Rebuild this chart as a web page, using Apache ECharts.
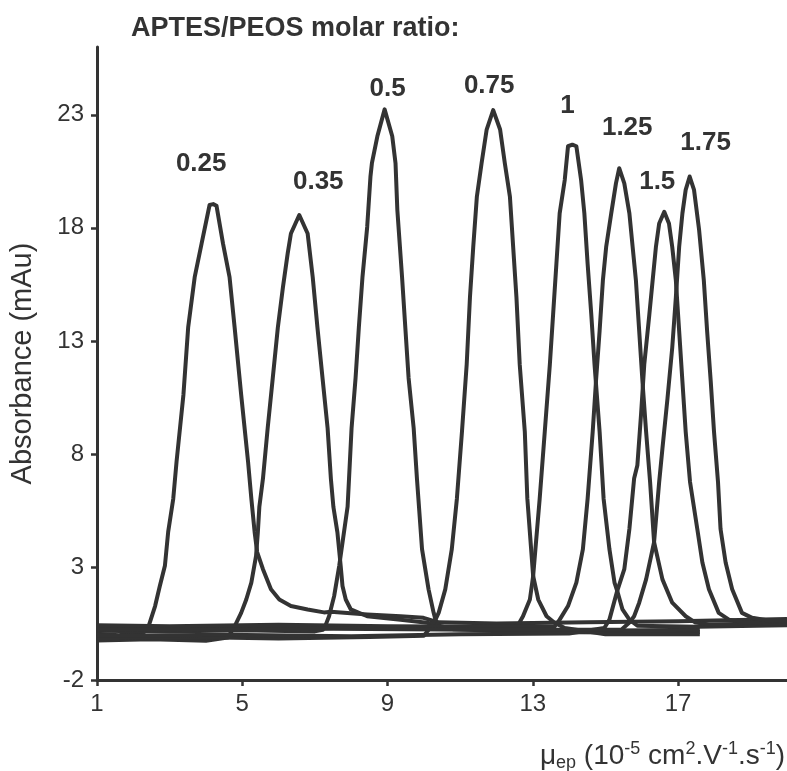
<!DOCTYPE html>
<html>
<head>
<meta charset="utf-8">
<title>APTES/PEOS molar ratio electropherograms</title>
<script src="https://cdn.jsdelivr.net/npm/echarts@6.0.0/dist/echarts.min.js"></script>
<style>
  html, body { margin: 0; padding: 0; background: #fff; }
  #chart { width: 787px; height: 771px; }
</style>
</head>
<body>
<div id="chart"></div>
<script>
// Molar ratios, one electropherogram each
const ratios = ['0.25', '0.35', '0.5', '0.75', '1', '1.25', '1.5', '1.75'];

// Axis tick values
const xTicks = [1, 5, 9, 13, 17];
const yTicks = [-2, 3, 8, 13, 18, 23];

// Traces: [mobility (10^-5 cm2/V/s), absorbance (mAu)]
const trace025 = [
  [1.0, 0.05], [1.6, -0.02], [2.1, 0.08], [2.3, 0.12],
  [2.42, 0.37], [2.60, 1.27], [2.73, 2.16], [2.87, 3.05], [2.96, 4.55], [3.10, 6.02], [3.19, 7.65],
  [3.38, 10.62], [3.51, 13.59], [3.69, 15.82], [3.88, 17.30], [4.10, 19.01], [4.20, 19.05], [4.29, 18.98],
  [4.47, 17.30], [4.65, 15.82], [4.79, 13.59], [4.97, 10.62], [5.16, 7.65], [5.25, 6.02], [5.34, 4.55],
  [5.41, 3.66], [5.57, 2.90], [5.79, 2.01], [6.02, 1.56], [6.34, 1.27], [6.80, 1.12], [7.25, 0.99],
  [7.44, 1.02], [8.44, 0.90], [9.36, 0.82], [9.99, 0.75], [10.4, 0.55], [12.0, 0.5], [14.5, 0.55],
  [17.0, 0.6], [20.0, 0.7]
];
const trace035 = [
  [1.0, -0.25], [2.5, -0.2], [4.0, -0.26], [4.6, -0.12],
  [4.79, 0.37], [4.97, 0.97], [5.11, 1.56], [5.25, 2.31], [5.38, 3.49], [5.43, 4.55], [5.47, 5.65],
  [5.57, 6.91], [5.70, 9.14], [5.84, 11.36], [5.98, 13.59], [6.12, 15.37], [6.25, 16.86], [6.34, 17.75],
  [6.57, 18.57],
  [6.80, 17.75], [6.94, 15.82], [7.07, 13.59], [7.21, 11.36], [7.35, 9.14], [7.44, 6.91], [7.51, 5.65],
  [7.62, 4.53], [7.71, 3.05], [7.76, 2.16], [7.85, 1.56], [7.99, 1.12], [8.44, 0.82], [9.36, 0.67],
  [10.09, 0.53], [10.8, 0.25], [13.0, 0.12], [15.5, 0.1], [17.6, 0.12]
];
const trace05 = [
  [1.0, 0.18], [3.0, 0.14], [5.0, 0.2], [7.0, 0.15], [7.22, 0.22],
  [7.30, 0.45], [7.39, 0.82], [7.53, 1.71], [7.67, 3.05], [7.90, 5.66], [7.94, 6.91], [8.01, 9.14],
  [8.12, 11.36], [8.21, 13.59], [8.31, 15.82], [8.44, 18.04], [8.53, 20.27], [8.57, 20.86], [8.72, 22.05],
  [8.92, 23.24],
  [9.13, 22.05], [9.22, 20.86], [9.27, 18.80], [9.40, 15.82], [9.49, 13.59], [9.58, 11.36], [9.72, 9.14],
  [9.81, 6.91], [9.85, 6.02], [9.95, 3.79], [10.13, 2.01], [10.27, 0.97], [10.32, 0.67], [10.45, 0.3],
  [12.0, 0.22], [14.5, 0.18], [17.6, 0.22]
];
const trace075 = [
  [1.0, -0.15], [3.5, -0.1], [6.0, -0.16], [8.5, -0.1], [10.0, -0.04],
  [10.18, 0.32], [10.32, 0.67], [10.41, 0.98], [10.59, 2.01], [10.77, 3.79], [10.91, 6.02], [11.05, 8.99],
  [11.18, 11.96], [11.27, 14.93], [11.36, 17.15], [11.46, 19.38], [11.59, 20.86], [11.73, 22.35],
  [11.91, 23.21],
  [12.10, 22.35], [12.23, 20.86], [12.37, 19.38], [12.46, 17.15], [12.55, 14.93], [12.64, 11.96],
  [12.78, 8.99], [12.85, 6.02], [13.01, 2.60], [13.15, 1.56], [13.38, 0.82], [13.60, 0.53], [13.88, 0.3],
  [15.0, 0.02], [17.6, 0.02]
];
const trace1 = [
  [1.0, 0.33], [4.0, 0.28], [7.0, 0.34], [10.0, 0.28], [12.4, 0.26],
  [12.60, 0.45], [12.73, 0.82], [12.92, 1.56], [13.01, 2.60], [13.19, 6.02], [13.33, 8.99], [13.47, 11.96],
  [13.56, 14.18], [13.65, 16.41], [13.74, 18.64], [13.88, 20.12], [13.97, 21.61], [14.09, 21.68],
  [14.20, 21.61], [14.33, 20.12], [14.42, 18.64], [14.51, 16.41], [14.61, 14.18], [14.70, 11.96],
  [14.84, 8.99], [14.95, 6.02], [15.11, 3.79], [15.25, 2.31], [15.34, 1.86], [15.47, 1.12], [15.66, 0.67],
  [15.88, 0.4], [17.5, 0.36], [20.0, 0.42]
];
const trace125 = [
  [1.0, 0.42], [3.0, 0.38], [6.0, 0.44], [9.0, 0.38], [12.0, 0.36], [13.6, 0.36],
  [13.74, 0.67], [13.97, 1.27], [14.20, 2.31], [14.38, 3.79], [14.51, 6.02], [14.65, 8.99], [14.74, 11.21],
  [14.84, 13.44], [14.93, 15.67], [15.02, 17.15], [15.16, 18.64], [15.29, 19.97], [15.38, 20.64],
  [15.52, 19.97], [15.66, 18.64], [15.75, 17.15], [15.84, 15.67], [15.93, 13.44], [16.02, 11.21],
  [16.12, 8.99], [16.23, 6.76], [16.34, 4.10], [16.57, 2.45], [16.84, 1.42], [17.21, 0.82], [17.48, 0.54],
  [17.85, 0.46], [20.0, 0.52]
];
const trace15 = [
  [1.0, -0.05], [4.5, 0.0], [8.0, -0.06], [11.0, 0.02], [14.0, 0.06], [14.97, 0.3],
  [15.11, 0.67], [15.31, 1.86], [15.52, 2.90], [15.66, 4.68], [15.79, 6.91], [15.88, 7.50], [15.98, 9.73],
  [16.07, 11.96], [16.21, 14.18], [16.30, 15.67], [16.39, 17.15], [16.48, 18.19], [16.62, 18.71],
  [16.75, 18.19], [16.84, 17.15], [16.94, 15.67], [17.03, 13.44], [17.12, 11.21], [17.21, 8.99],
  [17.33, 6.76], [17.53, 4.68], [17.67, 3.20], [17.85, 2.01], [18.12, 0.97], [18.40, 0.67], [18.81, 0.55],
  [20.0, 0.58]
];
const trace175 = [
  [1.0, 0.25], [3.5, 0.21], [7.5, 0.27], [11.5, 0.22], [15.44, 0.22],
  [15.66, 0.54], [15.79, 0.82], [15.93, 1.42], [16.12, 2.45], [16.34, 4.10], [16.48, 6.76], [16.57, 8.24],
  [16.71, 10.47], [16.84, 12.70], [16.94, 14.93], [17.03, 17.15], [17.12, 18.64], [17.21, 19.68],
  [17.32, 20.27],
  [17.44, 19.68], [17.58, 17.90], [17.71, 15.67], [17.80, 13.44], [17.90, 11.21], [17.99, 8.99],
  [18.10, 6.76], [18.17, 4.68], [18.31, 3.20], [18.49, 2.01], [18.76, 0.97], [19.04, 0.75], [19.49, 0.63],
  [20.0, 0.64]
];

const traces = [trace025, trace035, trace05, trace075, trace1, trace125, trace15, trace175];

// Pixel offset of each ratio label from its peak apex
const labelOffsets = [[-12, -40], [19, -33], [3, -21], [-4, -24], [-5, -39], [8, -40], [-7, -30], [16, -34]];

const FONT = "'Liberation Sans', Arial, Helvetica, sans-serif";
const INK = '#333';

const series = traces.map((data, i) => ({
  name: ratios[i],
  type: 'line',
  data: data,
  showSymbol: false,
  symbol: 'none',
  smooth: false,
  clip: true,
  lineStyle: { color: INK, width: 4, join: 'round' },
  emphasis: { disabled: true },
  markPoint: {
    symbol: 'circle',
    symbolSize: 0,
    silent: true,
    data: [{ type: 'max', valueDim: 'y' }],
    label: {
      show: true,
      position: 'inside',
      offset: labelOffsets[i],
      formatter: ratios[i],
      color: INK,
      fontFamily: FONT,
      fontWeight: 'bold',
      fontSize: 26
    }
  }
}));

const chart = echarts.init(document.getElementById('chart'), null, { renderer: 'canvas' });
chart.setOption({
  animation: false,
  backgroundColor: '#fff',
  textStyle: { fontFamily: FONT },
  title: [
    {
      text: 'APTES/PEOS molar ratio:',
      left: 126,
      top: 10,
      textStyle: { color: INK, fontFamily: FONT, fontWeight: 'bold', fontSize: 27 }
    },
    {
      text: 'μ{sub|ep} (10{sup|-5} cm{sup|2}.V{sup|-1}.s{sup|-1})',
      right: -3,
      top: 735,
      textStyle: {
        color: INK, fontFamily: FONT, fontWeight: 'normal', fontSize: 28, lineHeight: 32,
        rich: {
          sup: { fontSize: 18, color: INK, fontFamily: FONT, verticalAlign: 'top', lineHeight: 24 },
          sub: { fontSize: 18, color: INK, fontFamily: FONT, verticalAlign: 'bottom', lineHeight: 18 }
        }
      }
    }
  ],
  grid: { left: 95, right: 0, top: 47, bottom: 91, containLabel: false },
  xAxis: {
    type: 'value',
    min: 1,
    max: 20,
    interval: 4,
    splitLine: { show: false },
    axisLine: { show: true, onZero: false, lineStyle: { color: INK, width: 3 } },
    axisTick: { show: true, length: 6, customValues: xTicks, lineStyle: { color: INK, width: 2.5 } },
    axisLabel: { customValues: xTicks, margin: 12, color: INK, fontFamily: FONT, fontSize: 24 }
  },
  yAxis: {
    type: 'value',
    min: -2,
    max: 26,
    interval: 5,
    name: 'Absorbance (mAu)',
    nameLocation: 'middle',
    nameGap: 60,
    nameTextStyle: { color: INK, fontFamily: FONT, fontSize: 29 },
    splitLine: { show: false },
    axisLine: { show: true, onZero: false, lineStyle: { color: INK, width: 3 } },
    axisTick: { show: true, length: 6, customValues: yTicks, lineStyle: { color: INK, width: 2.5 } },
    axisLabel: { customValues: yTicks, margin: 13, color: INK, fontFamily: FONT, fontSize: 24 }
  },
  series: series
});
</script>
</body>
</html>
